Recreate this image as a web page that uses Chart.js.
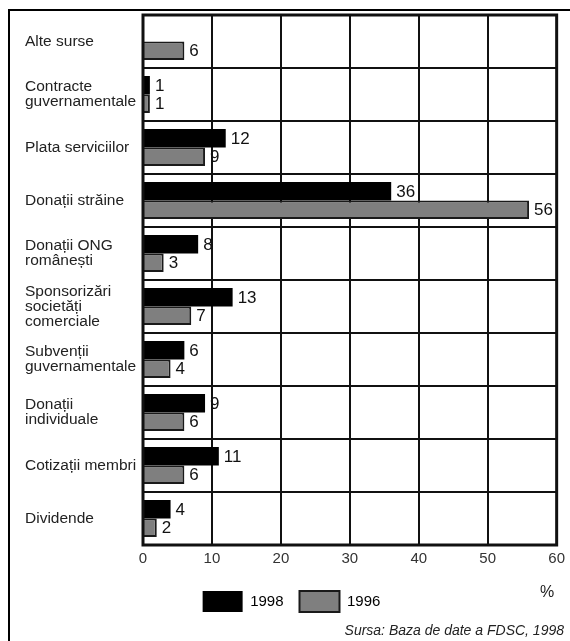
<!DOCTYPE html>
<html>
<head>
<meta charset="utf-8">
<script src="https://cdn.jsdelivr.net/npm/chart.js@4"></script>
<style>
  html, body { margin: 0; padding: 0; background: #fff; }
  #c { display: block; }
</style>
</head>
<body>
<canvas id="c" width="570" height="641"></canvas>
<script>
const categories = [
  'Alte surse',
  ['Contracte', 'guvernamentale'],
  'Plata serviciilor',
  'Donații străine',
  ['Donații ONG', 'românești'],
  ['Sponsorizări', 'societăți', 'comerciale'],
  ['Subvenții', 'guvernamentale'],
  ['Donații', 'individuale'],
  'Cotizații membri',
  'Dividende'
];
const values1998 = [null, 1, 12, 36, 8, 13, 6, 9, 11, 4];
const values1996 = [6, 1, 9, 56, 3, 7, 4, 6, 6, 2];
const xTicks = [0, 10, 20, 30, 40, 50, 60];
const seriesNames = ['1998', '1996'];
const sourceText = 'Sursa: Baza de date a FDSC, 1998';
const unitText = '%';

const FONT = '"Liberation Sans", Arial, sans-serif';

const decor = {
  id: 'decor',
  beforeDraw(chart) {
    const ctx = chart.ctx;
    ctx.save();
    ctx.fillStyle = '#fff';
    ctx.fillRect(0, 0, chart.width, chart.height);
    ctx.restore();
  },
  afterDatasetsDraw(chart) {
    const ctx = chart.ctx;
    const a = chart.chartArea;
    ctx.save();
    ctx.strokeStyle = '#111';
    ctx.lineWidth = 3;
    ctx.strokeRect(a.left, a.top, a.right - a.left, a.bottom - a.top);
    ctx.font = '17px ' + FONT;
    ctx.fillStyle = '#111';
    ctx.textBaseline = 'middle';
    ctx.textAlign = 'left';
    chart.data.datasets.forEach((ds, di) => {
      const meta = chart.getDatasetMeta(di);
      meta.data.forEach((bar, i) => {
        const v = ds.data[i];
        if (v === null || v === undefined) return;
        ctx.fillText(String(v), bar.x + 5, bar.y + 1);
      });
    });
    ctx.strokeStyle = '#000';
    ctx.lineWidth = 2;
    ctx.beginPath();
    ctx.moveTo(9, chart.height);
    ctx.lineTo(9, 10);
    ctx.lineTo(chart.width, 10);
    ctx.stroke();
    ctx.font = '16px ' + FONT;
    ctx.fillStyle = '#222';
    ctx.textAlign = 'center';
    ctx.fillText(unitText, 547, 593);
    ctx.font = 'italic 14px ' + FONT;
    ctx.textAlign = 'right';
    ctx.fillText(sourceText, 564, 631);
    ctx.restore();
  }
};

new Chart(document.getElementById('c'), {
  type: 'bar',
  data: {
    labels: categories,
    datasets: [
      {
        label: seriesNames[0],
        data: values1998,
        backgroundColor: '#000',
        borderColor: '#000',
        borderWidth: 0
      },
      {
        label: seriesNames[1],
        data: values1996,
        backgroundColor: '#7f7f7f',
        borderColor: '#1a1a1a',
        borderWidth: 2
      }
    ]
  },
  options: {
    indexAxis: 'y',
    responsive: false,
    animation: false,
    devicePixelRatio: 1,
    layout: { padding: { left: 25, top: 15, right: 12, bottom: 19 } },
    datasets: { bar: { categoryPercentage: 0.7, barPercentage: 1.0 } },
    scales: {
      x: {
        min: 0, max: 60,
        afterBuildTicks(scale) { scale.ticks = xTicks.map(v => ({ value: v })); },
        afterFit(scale) { scale.height = 30; },
        grid: { color: '#111', lineWidth: 2, drawTicks: false },
        border: { display: false },
        ticks: {
          padding: 5,
          color: '#333',
          font: { family: FONT, size: 15 }
        }
      },
      y: {
        afterFit(scale) { scale.width = 118; },
        grid: { color: '#111', lineWidth: 2, drawTicks: false, offset: true },
        border: { display: false },
        ticks: {
          crossAlign: 'far',
          padding: 0,
          color: '#222',
          font: { family: FONT, size: 15.5, lineHeight: '15px' }
        }
      }
    },
    plugins: {
      tooltip: { enabled: false },
      legend: {
        position: 'bottom',
        labels: {
          boxWidth: 40,
          boxHeight: 21,
          padding: 16,
          color: '#222',
          font: { family: FONT, size: 15 },
          generateLabels(chart) {
            return chart.data.datasets.map((ds, i) => ({
              text: ds.label,
              fillStyle: ds.backgroundColor,
              strokeStyle: i === 0 ? '#000' : '#1a1a1a',
              lineWidth: i === 0 ? 0 : 2,
              hidden: false,
              datasetIndex: i
            }));
          }
        }
      }
    }
  },
  plugins: [decor]
});
</script>
</body>
</html>
